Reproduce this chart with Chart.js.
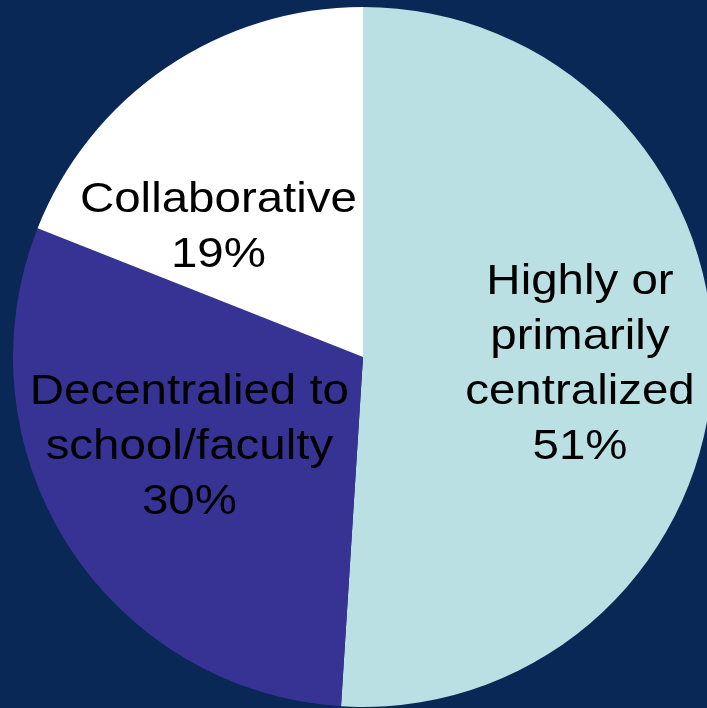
<!DOCTYPE html>
<html>
<head>
<meta charset="utf-8">
<script src="https://cdn.jsdelivr.net/npm/chart.js@4/dist/chart.umd.min.js"></script>
<style>
  html, body { margin: 0; padding: 0; width: 707px; height: 708px; overflow: hidden; background: #0a2855; }
  #wrap { position: absolute; left: 13px; top: 7px; width: 700px; height: 700px; }
</style>
</head>
<body>
<div id="wrap"><canvas id="pie" width="700" height="700"></canvas></div>
<script>
const categories = ["Highly or primarily centralized", "Decentralied to school/faculty", "Collaborative"];
const shares = [51, 30, 19];
const sliceColors = ["#bbe0e4", "#373394", "#ffffff"];
// label text as it is broken in the picture
const labelLines = [
    ["Highly or", "primarily", "centralized"],
    ["Decentralied to", "school/faculty"],
    ["Collaborative"]
];
// label anchor, in fractions of the radius from the pie centre
const labelAnchor = [[0.62, 0.022], [-0.496, 0.257], [-0.413, -0.37]];

const sliceLabels = {
    id: 'sliceLabels',
    afterDatasetsDraw(chart) {
        const ctx = chart.ctx;
        const arcs = chart.getDatasetMeta(0).data;
        const lineH = 55;
        ctx.save();
        ctx.fillStyle = '#000';
        ctx.font = '42px "Liberation Sans", Arial, sans-serif';
        ctx.textAlign = 'center';
        ctx.textBaseline = 'middle';
        arcs.forEach((arc, i) => {
            const lines = labelLines[i].concat([shares[i] + '%']);
            const cx = arc.x + labelAnchor[i][0] * arc.outerRadius;
            const cy = arc.y + labelAnchor[i][1] * arc.outerRadius;
            const top = cy - (lines.length - 1) * lineH / 2;
            lines.forEach((t, k) => {
                ctx.save();
                ctx.translate(cx, top + k * lineH);
                ctx.scale(1.13, 1);
                ctx.fillText(t, 0, 0);
                ctx.restore();
            });
        });
        ctx.restore();
    }
};

new Chart(document.getElementById('pie').getContext('2d'), {
    type: 'pie',
    data: {
        labels: categories,
        datasets: [{
            data: shares,
            backgroundColor: sliceColors,
            borderWidth: 0
        }]
    },
    options: {
        responsive: false,
        animation: false,
        layout: { padding: 0 },
        plugins: {
            legend: { display: false },
            tooltip: { enabled: false }
        }
    },
    plugins: [sliceLabels]
});
</script>
</body>
</html>
